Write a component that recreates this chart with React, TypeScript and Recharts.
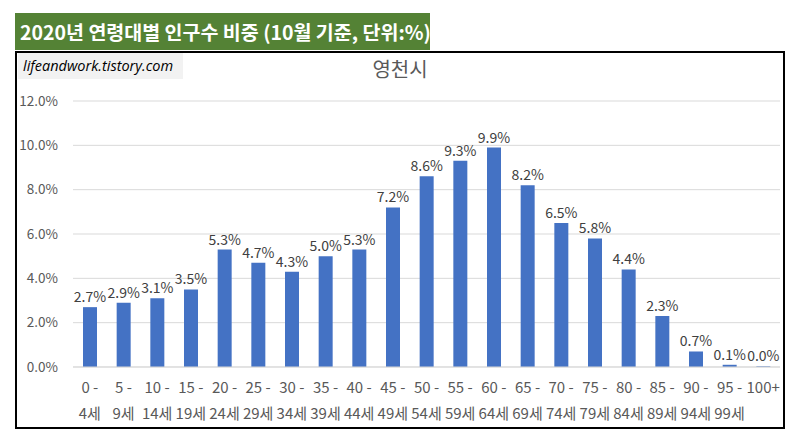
import { BarChart, Bar, XAxis, YAxis, CartesianGrid, LabelList } from 'recharts';

// ── Age bands (tick labels) and share of population (%) ──
const AGE_BANDS = [
  '0 -|4세', '5 -|9세', '10 -|14세', '15 -|19세', '20 -|24세', '25 -|29세', '30 -|34세',
  '35 -|39세', '40 -|44세', '45 -|49세', '50 -|54세', '55 -|59세', '60 -|64세', '65 -|69세',
  '70 -|74세', '75 -|79세', '80 -|84세', '85 -|89세', '90 -|94세', '95 -|99세', '100+',
];
const SHARE = [
  2.7, 2.9, 3.1, 3.5, 5.3, 4.7, 4.3, 5.0, 5.3, 7.2, 8.6, 9.3, 9.9, 8.2, 6.5, 5.8, 4.4, 2.3,
  0.7, 0.1, 0.03,
];
const Y_TICKS = [0, 2, 4, 6, 8, 10, 12];

const FONT = "'Noto Sans CJK KR', 'Noto Sans', sans-serif";

const data = AGE_BANDS.map((band, i) => ({ band, share: SHARE[i] }));

function AgeTick(props: any) {
  const { x, y, payload } = props;
  const [first, second] = String(payload.value).split('|');
  return (
    <g>
      <text x={x} y={y + 18} textAnchor="middle" fill="#595959" fontSize={15} fontFamily={FONT}>
        {first}
      </text>
      {second && (
        <text x={x} y={y + 44} textAnchor="middle" fill="#595959" fontSize={15} fontFamily={FONT}>
          {second}
        </text>
      )}
    </g>
  );
}

export default function App() {
  return (
    <div
      style={{
        position: 'absolute',
        left: 0,
        top: 0,
        width: 795,
        height: 439,
        background: '#fff',
        fontFamily: FONT,
      }}
    >
      <BarChart
        width={795}
        height={439}
        data={data}
        margin={{ top: 101, right: 15, left: 0, bottom: 12 }}
        barSize={14}
      >
        <CartesianGrid vertical={false} stroke="#d9d9d9" />
        <XAxis
          dataKey="band"
          interval={0}
          height={60}
          tick={<AgeTick />}
          tickLine={false}
          axisLine={{ stroke: '#d9d9d9' }}
        />
        <YAxis
          width={73}
          domain={[0, 12]}
          ticks={Y_TICKS}
          axisLine={false}
          tickLine={false}
          tickMargin={9}
          tick={{ fill: '#595959', fontSize: 13.5, fontFamily: FONT }}
          tickFormatter={(v) => `${Number(v).toFixed(1)}%`}
        />
        <Bar dataKey="share" fill="#4472c4" isAnimationActive={false}>
          <LabelList
            dataKey="share"
            position="top"
            fill="#404040"
            fontSize={14}
            fontFamily={FONT}
            formatter={(v: any) => `${Number(v).toFixed(1)}%`}
          />
        </Bar>
      </BarChart>

      {/* chart frame */}
      <div
        style={{
          position: 'absolute',
          left: 15,
          top: 51,
          width: 770,
          height: 378,
          border: '2px solid #000',
          boxSizing: 'border-box',
          pointerEvents: 'none',
        }}
      />

      {/* green heading */}
      <div
        style={{
          position: 'absolute',
          left: 15,
          top: 13,
          width: 415,
          height: 37,
          background: '#548235',
          color: '#fff',
          fontWeight: 'bold',
          fontSize: 19.5,
          lineHeight: '37px',
          paddingLeft: 5,
          boxSizing: 'border-box',
          whiteSpace: 'nowrap',
        }}
      >
        2020년 연령대별 인구수 비중 (10월 기준, 단위:%)
      </div>

      {/* watermark */}
      <div
        style={{
          position: 'absolute',
          left: 18,
          top: 53,
          width: 165,
          height: 26,
          background: '#f2f2f2',
          fontFamily: "'Open Sans', sans-serif",
          fontStyle: 'italic',
          fontSize: 14.5,
          lineHeight: '26px',
          paddingLeft: 5,
          boxSizing: 'border-box',
          color: '#000',
          whiteSpace: 'nowrap',
        }}
      >
        lifeandwork.tistory.com
      </div>

      {/* chart title */}
      <div
        style={{
          position: 'absolute',
          left: 300,
          top: 56,
          width: 200,
          textAlign: 'center',
          fontSize: 20,
          lineHeight: '26px',
          color: '#595959',
        }}
      >
        영천시
      </div>
    </div>
  );
}
